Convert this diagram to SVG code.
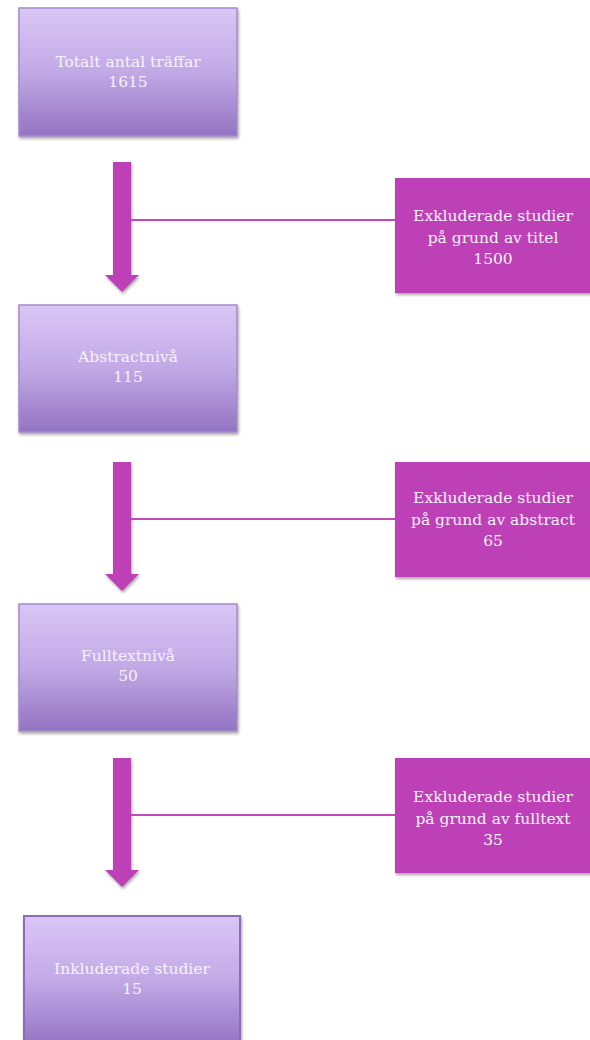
<svg xmlns="http://www.w3.org/2000/svg" width="590" height="1040" viewBox="0 0 590 1040">
<defs>
<linearGradient id="pg" x1="0" y1="0" x2="0" y2="1">
<stop offset="0" stop-color="#dac6f6"/>
<stop offset="0.5" stop-color="#c2a9e6"/>
<stop offset="1" stop-color="#9373c2"/>
</linearGradient>
<filter id="sh" x="-10%" y="-10%" width="125%" height="125%">
<feGaussianBlur in="SourceAlpha" stdDeviation="1.5"/>
<feOffset dx="1" dy="2" result="b"/>
<feFlood flood-color="#000" flood-opacity="0.35"/>
<feComposite in2="b" operator="in"/>
<feMerge><feMergeNode/><feMergeNode in="SourceGraphic"/></feMerge>
</filter>
</defs>
<style>
.pbox{fill:url(#pg);stroke:#a48cc9;stroke-width:1.5;filter:url(#sh)}
.pbox2{fill:url(#pg);stroke:#8c6cb8;stroke-width:2;filter:url(#sh)}
.mbox{fill:#bd3fb6;filter:url(#sh)}
.t{font-family:"DejaVu Serif","Liberation Serif",serif;font-size:15.5px;fill:#f7f2fb;text-anchor:middle}
.shaft{fill:#bd3fb6;filter:url(#sh)}
.ln{stroke:#c24abb;stroke-width:2;fill:none}
</style>
<g id="connectors">
<rect class="shaft" x="113" y="162" width="18" height="113"/>
<polygon class="shaft" points="105,275 139,275 122,292"/>
<line class="ln" x1="131" y1="220" x2="395" y2="220"/>
<rect class="shaft" x="113" y="462" width="18" height="112"/>
<polygon class="shaft" points="105,574 139,574 122,591"/>
<line class="ln" x1="131" y1="519" x2="395" y2="519"/>
<rect class="shaft" x="113" y="758" width="18" height="112"/>
<polygon class="shaft" points="105,870 139,870 122,887"/>
<line class="ln" x1="131" y1="815" x2="395" y2="815"/>
</g>
<g id="n1">
<rect class="pbox" x="19" y="8" width="218" height="128"/>
<text class="t" x="128" y="67">Totalt antal träffar</text>
<text class="t" x="128" y="87">1615</text>
</g>
<g id="n2">
<rect class="pbox" x="19" y="305" width="218" height="127"/>
<text class="t" x="128" y="362">Abstractnivå</text>
<text class="t" x="128" y="382">115</text>
</g>
<g id="n3">
<rect class="pbox" x="19" y="604" width="218" height="127"/>
<text class="t" x="128" y="661">Fulltextnivå</text>
<text class="t" x="128" y="681">50</text>
</g>
<g id="n4">
<rect class="pbox2" x="24" y="916" width="216" height="130"/>
<text class="t" x="132" y="974">Inkluderade studier</text>
<text class="t" x="132" y="994">15</text>
</g>
<g id="x1">
<rect class="mbox" x="395" y="178" width="200" height="115"/>
<text class="t" x="493" y="221">Exkluderade studier</text>
<text class="t" x="493" y="243">på grund av titel</text>
<text class="t" x="493" y="264">1500</text>
</g>
<g id="x2">
<rect class="mbox" x="395" y="462" width="200" height="115"/>
<text class="t" x="493" y="503">Exkluderade studier</text>
<text class="t" x="493" y="525">på grund av abstract</text>
<text class="t" x="493" y="546">65</text>
</g>
<g id="x3">
<rect class="mbox" x="395" y="758" width="200" height="115"/>
<text class="t" x="493" y="802">Exkluderade studier</text>
<text class="t" x="493" y="824">på grund av fulltext</text>
<text class="t" x="493" y="845">35</text>
</g>
</svg>
